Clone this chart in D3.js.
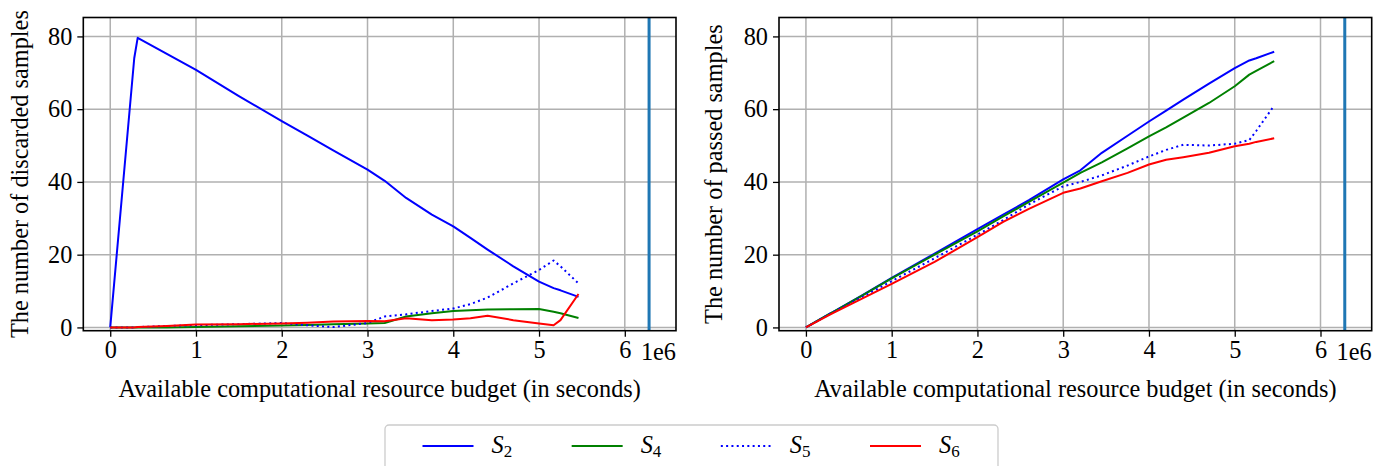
<!DOCTYPE html>
<html>
<head>
<meta charset="utf-8">
<script src="https://cdn.jsdelivr.net/npm/d3@7"></script>
<style>
  html, body { margin: 0; padding: 0; background: #fff; }
  svg text { font-family: "Liberation Serif", "DejaVu Serif", serif; fill: #000; }
</style>
</head>
<body>
<svg id="chart" width="1388" height="466"></svg>
<script>
// ---- Data (budget in units of 1e6 seconds) ----
const budget = [0, 0.28, 0.32, 0.66, 1, 1.5, 2, 2.3, 2.6, 3, 3.2, 3.45, 3.75, 4, 4.2, 4.4, 4.7, 5, 5.17, 5.25, 5.46];

// Discarded samples
const discardedS2 = [0, 74, 79.6, 75.2, 70.8, 63.6, 56.7, 52.7, 48.7, 43.4, 40.3, 35.6, 31, 27.8, 24.6, 21.4, 16.8, 12.6, 10.8, 10.2, 8.4];
const discardedS4 = [0, 0, 0, 0, 0.1, 0.3, 0.5, 0.7, 0.9, 1.1, 1.2, 3.0, 3.9, 4.5, 4.7, 4.9, 5.0, 5.05, 4.3, 3.9, 2.6];
const discardedS5 = [0, 0, 0.1, 0.4, 0.6, 0.9, 1.2, 0.6, 0.1, 1.2, 3.0, 3.6, 4.5, 5.2, 6.4, 8.2, 12.1, 15.8, 18.4, 16.8, 12.1];
const discardedS6 = [0, 0, 0.1, 0.4, 0.8, 0.9, 1.1, 1.3, 1.6, 1.75, 1.7, 2.5, 2.0, 2.2, 2.5, 3.2, 2.0, 1.1, 0.6, 2.0, 9.2];

// Passed samples
const passedS2 = [0, 3.8, 4.3, 8.9, 13.6, 20.3, 27, 31, 35, 40.7, 43.2, 48, 52.7, 56.6, 59.6, 62.6, 67, 71.3, 73.4, 74, 75.8];
const passedS4 = [0, 3.8, 4.3, 8.8, 13.5, 20, 26.4, 30.5, 34.5, 39.8, 42.5, 45.4, 49.2, 52.5, 55, 57.7, 61.7, 66.3, 69.5, 70.5, 73.2];
const passedS5 = [0, 3.7, 4.2, 8.4, 12.7, 19, 25.5, 29.5, 33.8, 38.8, 40, 41.8, 44.5, 47, 48.8, 50.2, 50, 50.5, 51.5, 54, 61];
const passedS6 = [0, 3.5, 4, 8, 12, 18, 24.8, 29, 32.6, 37, 38.2, 40.2, 42.5, 44.8, 46.1, 46.8, 48, 49.8, 50.5, 51, 52];

const budgetLimit = [6.283];

const xTicks = [0, 1, 2, 3, 4, 5, 6];
const yTicks = [0, 20, 40, 60, 80];
const seriesNames = ["S2", "S4", "S5", "S6"];
const seriesLabels = [["S", "2"], ["S", "4"], ["S", "5"], ["S", "6"]];
const seriesColors = ["#0000ff", "#008000", "#0000ff", "#ff0000"];
const seriesDash = [null, null, "2,3.3", null];
const panelYLabels = ["The number of discarded samples", "The number of passed samples"];
const xLabel = "Available computational resource budget (in seconds)";
const offsetLabel = "1e6";

// ---- Layout ----
const svg = d3.select("#chart");
const FS = 24.3;
const panels = [
  { left: 83.3, series: [discardedS2, discardedS4, discardedS5, discardedS6], ylabel: panelYLabels[0], ylabelX: 27.5 },
  { left: 779, series: [passedS2, passedS4, passedS5, passedS6], ylabel: panelYLabels[1], ylabelX: 721.5 }
];
const W = 592.7, plotTop = 17.5, plotBottom = 330.7;

panels.forEach(p => {
  const x = d3.scaleLinear().domain([-0.314, 6.597]).range([p.left, p.left + W]);
  const y = d3.scaleLinear().domain([-0.9, 85.2]).range([plotBottom, plotTop]);
  const g = svg.append("g");

  // grid
  g.append("g").selectAll("line").data(xTicks).join("line")
    .attr("x1", d => x(d)).attr("x2", d => x(d)).attr("y1", plotTop).attr("y2", plotBottom)
    .attr("stroke", "#b0b0b0").attr("stroke-width", 1.5);
  g.append("g").selectAll("line").data(yTicks).join("line")
    .attr("y1", d => y(d)).attr("y2", d => y(d)).attr("x1", p.left).attr("x2", p.left + W)
    .attr("stroke", "#b0b0b0").attr("stroke-width", 1.5);

  // series
  const line = d3.line().x((d, i) => x(budget[i])).y(d => y(d));
  p.series.forEach((s, k) => {
    g.append("path").datum(s).attr("d", line).attr("fill", "none")
      .attr("stroke", seriesColors[k]).attr("stroke-width", 2)
      .attr("stroke-dasharray", seriesDash[k])
      .attr("stroke-linejoin", "round");
  });

  // budget limit
  g.selectAll(".limit").data(budgetLimit).join("line").attr("class", "limit")
    .attr("x1", d => x(d)).attr("x2", d => x(d)).attr("y1", plotTop).attr("y2", plotBottom)
    .attr("stroke", "#1f77b4").attr("stroke-width", 3);

  // axes
  const xAxis = d3.axisBottom(x).tickValues(xTicks).tickFormat(d3.format("d")).tickSizeOuter(0).tickSize(6).tickPadding(4);
  const ax = g.append("g").attr("transform", `translate(0,${plotBottom})`).call(xAxis);
  const yAxis = d3.axisLeft(y).tickValues(yTicks).tickFormat(d3.format("d")).tickSizeOuter(0).tickSize(6).tickPadding(5);
  const ay = g.append("g").attr("transform", `translate(${p.left},0)`).call(yAxis);
  [ax, ay].forEach(a => {
    a.select(".domain").remove();
    a.selectAll(".tick line").attr("stroke", "#000").attr("stroke-width", 1.3);
    a.selectAll(".tick text").attr("font-size", FS).attr("font-family", "Liberation Serif");
  });

  // frame
  g.append("rect").attr("x", p.left).attr("y", plotTop).attr("width", W).attr("height", plotBottom - plotTop)
    .attr("fill", "none").attr("stroke", "#000").attr("stroke-width", 1.6);

  // offset text
  g.append("text").attr("x", p.left + W).attr("y", 360).attr("text-anchor", "end")
    .attr("font-size", FS).text(offsetLabel);

  // x label
  g.append("text").attr("x", p.left + W / 2).attr("y", 397).attr("text-anchor", "middle")
    .attr("font-size", FS).text(xLabel);

  // y label
  g.append("text").attr("transform", `translate(${p.ylabelX},${(plotTop + plotBottom) / 2}) rotate(-90)`)
    .attr("text-anchor", "middle").attr("font-size", FS).text(p.ylabel);
});

// ---- Legend ----
const lg = svg.append("g");
lg.append("rect").attr("x", 385).attr("y", 425).attr("width", 613).attr("height", 60)
  .attr("rx", 4).attr("fill", "#fff").attr("stroke", "#cccccc").attr("stroke-width", 1.3);
const itemX = d3.scalePoint().domain(seriesNames).range([422.5, 870]);
seriesNames.forEach((n, k) => {
  const x0 = itemX(n);
  lg.append("line").attr("x1", x0).attr("x2", x0 + 51).attr("y1", 446).attr("y2", 446)
    .attr("stroke", seriesColors[k]).attr("stroke-width", 2).attr("stroke-dasharray", seriesDash[k]);
  const t = lg.append("text").attr("x", x0 + 69).attr("y", 453).attr("font-size", FS);
  t.append("tspan").attr("font-style", "italic").text(seriesLabels[k][0]);
  t.append("tspan").attr("font-size", 17).attr("dy", 4).text(seriesLabels[k][1]);
});
</script>
</body>
</html>
